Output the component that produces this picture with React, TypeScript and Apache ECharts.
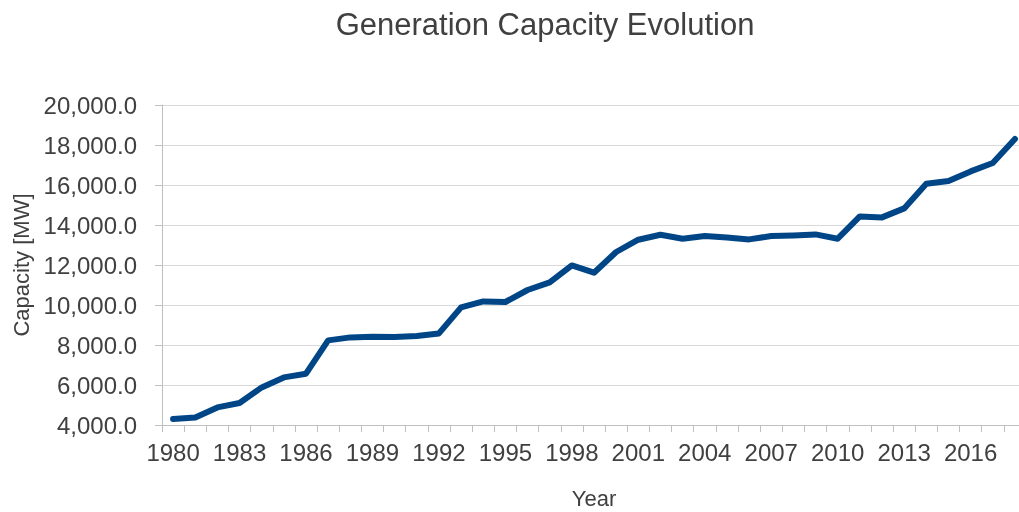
import React, { useEffect, useRef } from "react";
import * as echarts from "echarts";

const years: string[] = [
  "1980", "1981", "1982", "1983", "1984", "1985", "1986", "1987", "1988", "1989",
  "1990", "1991", "1992", "1993", "1994", "1995", "1996", "1997", "1998", "1999",
  "2000", "2001", "2002", "2003", "2004", "2005", "2006", "2007", "2008", "2009",
  "2010", "2011", "2012", "2013", "2014", "2015", "2016", "2017", "2018",
];

const capacity: number[] = [
  4300, 4380, 4880, 5100, 5880, 6380, 6565, 8230, 8380, 8415,
  8400, 8450, 8580, 9880, 10180, 10150, 10750, 11130, 11980, 11615,
  12650, 13265, 13515, 13315, 13450, 13380, 13280, 13450, 13480, 13530,
  13315, 14430, 14380, 14830, 16065, 16200, 16680, 17100, 18300,
];

const titleText = "Generation Capacity Evolution";
const yAxisName = "Capacity [MW]";
const xAxisName = "Year";

export default function App() {
  const ref = useRef<HTMLDivElement>(null);
  useEffect(() => {
    if (!ref.current) return;
    const chart = echarts.init(ref.current, undefined, { renderer: "svg" });
    const font = "Liberation Sans, Arial, sans-serif";
    chart.setOption({
      animation: false,
      title: {
        text: titleText,
        left: 540,
        textAlign: "center",
        top: 4,
        textStyle: { fontFamily: font, fontSize: 31, fontWeight: "normal", color: "#404040" },
      },
      grid: {
        left: 162,
        top: 105,
        height: 320,
        width: 864,
        containLabel: false,
        outerBoundsMode: "none",
      },
      xAxis: {
        type: "category",
        data: years,
        boundaryGap: true,
        name: xAxisName,
        nameLocation: "middle",
        nameGap: 62,
        nameTextStyle: { fontFamily: font, fontSize: 22, color: "#404040" },
        axisLine: { lineStyle: { color: "#bfbfbf", width: 1 } },
        axisTick: { show: true, interval: 0, length: 7, lineStyle: { color: "#bfbfbf" } },
        axisLabel: { interval: 2, margin: 15, fontFamily: font, fontSize: 24, color: "#404040" },
        splitLine: { show: false },
      },
      yAxis: {
        type: "value",
        min: 4000,
        max: 20000,
        interval: 2000,
        name: yAxisName,
        nameLocation: "middle",
        nameGap: 128,
        nameTextStyle: { fontFamily: font, fontSize: 22, color: "#404040" },
        axisLine: { show: true, lineStyle: { color: "#bfbfbf", width: 1 } },
        axisTick: { show: true, length: 7, lineStyle: { color: "#bfbfbf" } },
        axisLabel: {
          margin: 25,
          fontFamily: font,
          fontSize: 24,
          color: "#404040",
          formatter: (v: number) =>
            v.toLocaleString("en-US", { minimumFractionDigits: 1, maximumFractionDigits: 1 }),
        },
        splitLine: { lineStyle: { color: "#d9d9d9", width: 1 } },
      },
      series: [
        {
          type: "line",
          data: capacity,
          showSymbol: false,
          symbol: "none",
          lineStyle: { color: "#004687", width: 6, cap: "round", join: "round" },
        },
      ],
    });
    return () => chart.dispose();
  }, []);
  return (
    <div style={{ width: 1019, height: 512, position: "fixed", left: 0, top: 0, overflow: "hidden" }}>
      <div ref={ref} style={{ width: 1019, height: 512, overflow: "hidden" }} />
    </div>
  );
}
